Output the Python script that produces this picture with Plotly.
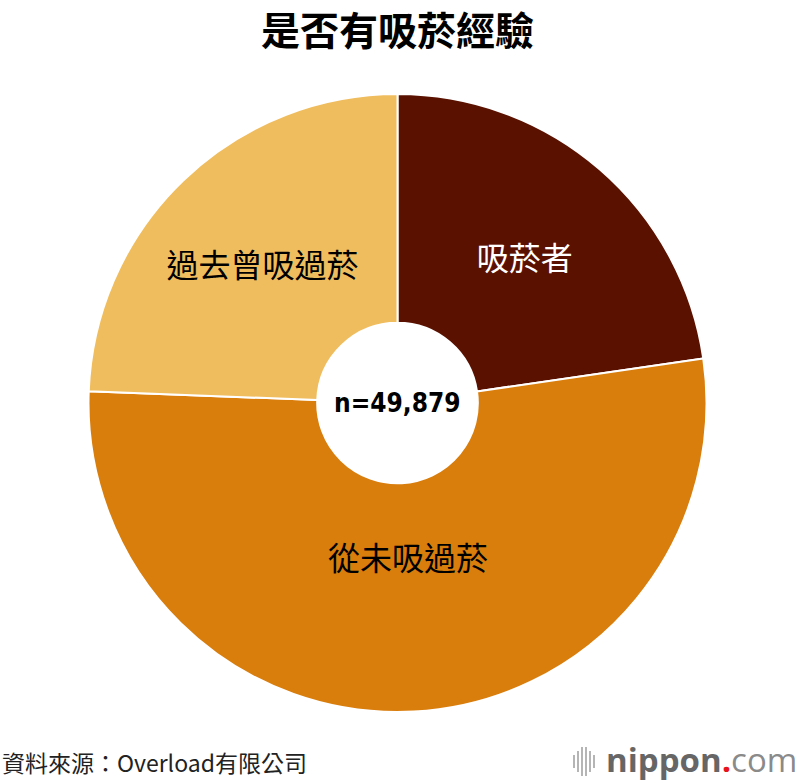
import plotly.graph_objects as go

# 是否有吸菸經驗 (%)
labels = ["吸菸者", "從未吸過菸", "過去曾吸過菸"]
values = [22.7, 52.9, 24.4]
colors = ["#5a1100", "#d97d0c", "#f0bd5e"]
text_colors = ["white", "black", "black"]

sample = "n=49,879"
title = "是否有吸菸經驗"
source = "資料來源：Overload有限公司"

W, H = 800, 784
L, R, T, B = 88, 93, 94, 72


def px_x(x):
    return (x - L) / (W - L - R)


def px_y(y):
    return 1 - (y - T) / (H - T - B)


fig = go.Figure(go.Pie(
    labels=labels,
    values=values,
    sort=False,
    direction="clockwise",
    rotation=0,
    hole=0.26,
    marker=dict(colors=colors, line=dict(color="white", width=2)),
    texttemplate=["%{label}", "%{label}<br> <br> ", "%{label}"],
    textposition="inside",
    insidetextorientation="horizontal",
    textfont=dict(size=32, color=text_colors, family="Noto Sans CJK TC"),
    showlegend=False,
))

fig.add_annotation(text=f"<b>{sample}</b>", x=0.5, y=0.5, xref="paper", yref="paper",
                   showarrow=False,
                   font=dict(size=26, color="black", family="DejaVu Sans Condensed"))

fig.add_annotation(text=f"<b>{title}</b>", x=0.5, y=px_y(28), xref="paper", yref="paper",
                   xanchor="center", yanchor="middle", showarrow=False,
                   font=dict(size=39, color="black", family="Noto Sans CJK TC"))

fig.add_annotation(text=source, x=px_x(0), y=px_y(762), xref="paper", yref="paper",
                   xanchor="left", yanchor="middle", showarrow=False,
                   font=dict(size=23, color="#222222", family="Noto Sans CJK TC"))

# nippon.com logo
fig.add_annotation(text="<b>nippon</b><span style='color:#e8141c'><b>.</b></span><span style='color:#8a8a8a'>com</span>",
                   x=px_x(799), y=px_y(759), xref="paper", yref="paper",
                   xanchor="right", yanchor="middle", showarrow=False,
                   font=dict(size=33, color="#666666", family="Open Sans"))
bars = [(574, 755, 768), (578, 751, 772), (582, 747, 776), (586, 747, 776), (590, 751, 772), (594, 755, 768)]
for bx, y0, y1 in bars:
    fig.add_shape(type="line", xref="paper", yref="paper",
                  x0=px_x(bx), x1=px_x(bx), y0=px_y(y0), y1=px_y(y1),
                  line=dict(color="#b5b5b5", width=2))

fig.update_layout(
    width=W, height=H,
    margin=dict(l=L, r=R, t=T, b=B),
    paper_bgcolor="white",
    plot_bgcolor="white",
)

fig.write_html("out.html", config={"displayModeBar": False},
               post_script="document.body.style.margin='0';")
